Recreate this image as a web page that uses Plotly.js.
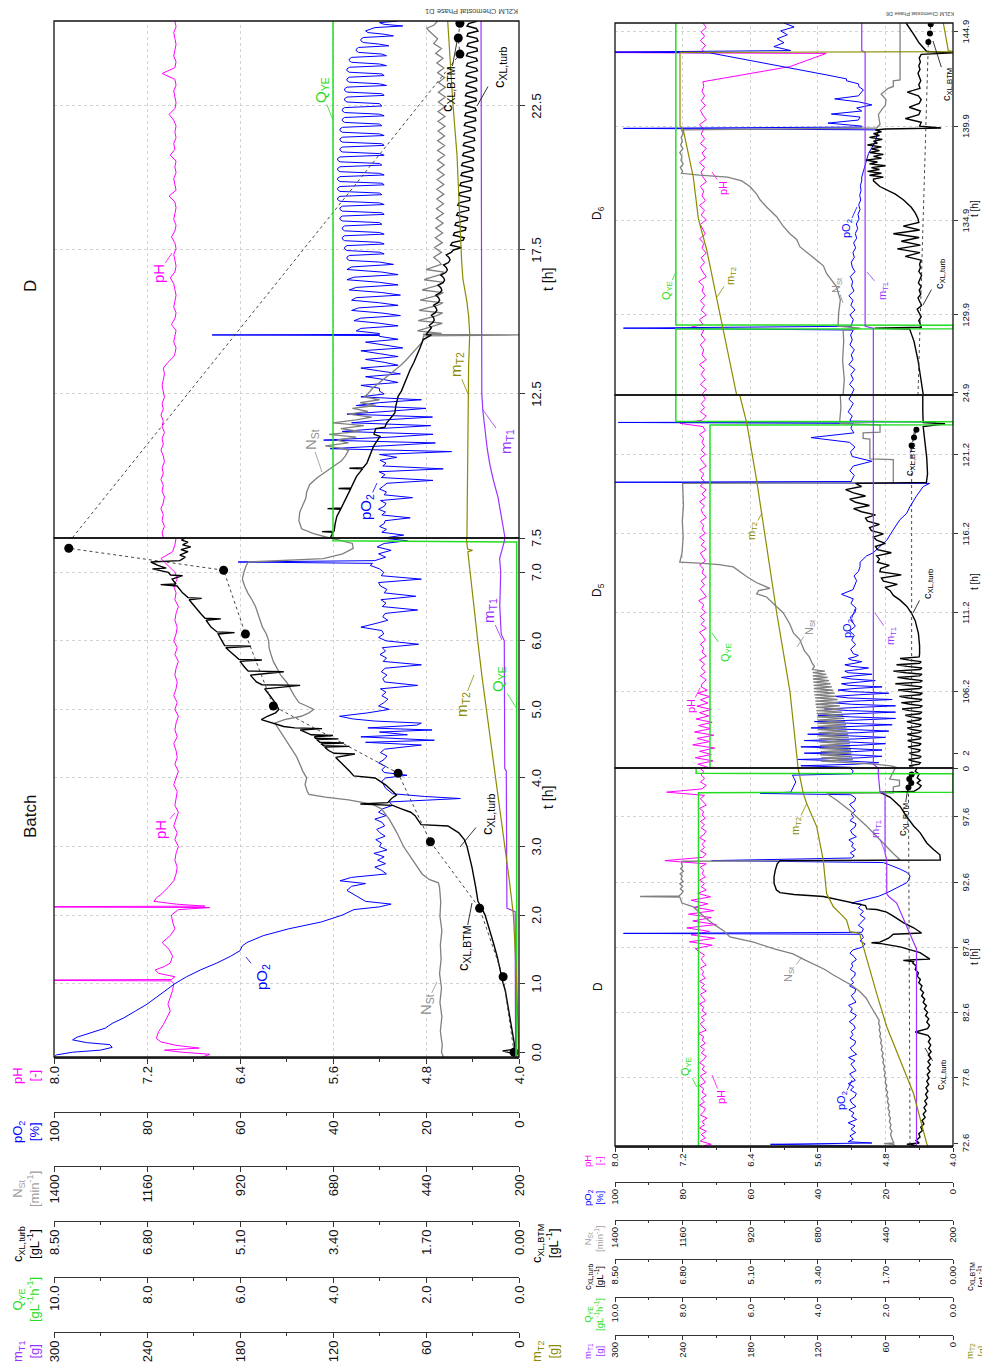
<!DOCTYPE html>
<html>
<head>
<meta charset="utf-8">
<script src="https://cdn.plot.ly/plotly-3.0.1.min.js"></script>
<style>
html,body{margin:0;padding:0;width:982px;height:1369px;overflow:hidden;background:#fff;}
#wrap{position:absolute;left:0;top:0;width:1369px;height:982px;transform-origin:0 0;}
#chart{width:1369px;height:982px;}
</style>
</head>
<body>
<div id="wrap"><div id="chart"></div></div>
<script>
// ---------------- tick labels ----------------
const tB_ticks = [0,1,2,3,4,5,6,7];
const tB_tickText = ['0.0','1.0','2.0','3.0','4.0','5.0','6.0','7.0'];
const tD_ticks = [7.5,12.5,17.5,22.5];
const tD_tickText = ['7.5','12.5','17.5','22.5'];
const bD_ticks = [72.6,77.6,82.6,87.6,92.6,97.6,101.3];
const bD_tickText = ['72.6','77.6','82.6','87.6','92.6','97.6','0'];
const b5_ticks = [102.3,106.2,111.2,116.2,121.2];
const b5_tickText = ['2','106.2','111.2','116.2','121.2'];
const b6_ticks = [125.77,129.9,134.9,139.9,144.9];
const b6_tickText = ['24.9','129.9','134.9','139.9','144.9'];

// ---------------- data: items are [t, value] or [t0, t1, [values evenly over t0..t1]] ----------------
// ===== top panel, Batch (t in h) =====
const tB_pH = [[-0.07,6.72],[-0.03,6.66],[0.0,6.9],[0.03,7.05],[0.06,6.75],[0.1,6.95],[0.15,7.08],[0.2,7.12],[0.3,7.1],[0.4,7.06],[0.5,7.03],[0.6,7.0],[0.7,7.02],[0.8,7.0],[0.9,6.98],[1.0,6.97],[1.04,6.99],[1.05,8.6],[1.06,6.99],[1.1,6.96],[1.15,7.1],[1.2,7.13],[1.25,7.05],[1.3,7.0],[1.4,6.98],[1.5,7.01],[1.6,7.07],[1.7,7.0],[1.8,6.96],[1.9,6.98],[2.0,6.99],[2.08,6.93],[2.11,6.66],[2.12,8.6],[2.13,6.7],[2.16,6.95],[2.2,7.14],[2.25,7.12],[2.3,7.08],[2.4,7.02],[2.5,6.97],[2.6,6.95],
 [2.7,7.5,[6.94,6.96,6.95,6.93,6.96,6.94,6.97,6.95,6.93,6.96,6.95,6.94,6.97,6.95,6.93,6.96,6.94,6.95,6.97,6.94,6.96,6.95,6.93,6.96,6.94,6.97,6.95,6.94,6.96,6.95,6.93,6.96,6.94,6.97,6.95,6.94,6.96,6.95,6.93,6.96,6.95,6.97,6.94,6.96,7.02,7.08,6.98,6.96,6.95]]];
const tB_pO2 = [[-0.07,100],[-0.04,99.5],[0.0,96],[0.03,90],[0.07,87.5],[0.11,88],[0.14,93],[0.18,96],[0.22,95],[0.28,92],[0.35,89],[0.42,87.5],[0.5,85],[0.6,82.5],[0.7,80],[0.8,78],[0.9,76],[1.0,74],[1.1,71.5],[1.2,68.5],[1.3,65],[1.4,62],[1.48,60],[1.55,59.5],[1.6,58.5],[1.7,55],[1.8,49.5],[1.9,42.5],[2.0,38],[2.08,35.5],[2.12,30],[2.16,27.5],[2.2,33],[2.28,35],[2.36,37],[2.42,36],[2.46,33],[2.5,38.5],[2.55,36],[2.6,28.5],
 [2.65,3.6,[29.5,31,28.7,30.4,29,31.2,28.4,30,29.6,30.8,28.8,29.9,30.6,28.9,29.4,31,28.6,30.2,29.3,27.2]],
 [3.65,27.9],[3.7,12.6],[3.73,20.3],[3.77,27.2],[3.85,28.7],[3.95,29.5],[4.0,28.7],[4.04,24.1],[4.08,29],
 [4.12,4.42,[29.5,28.7,30.2,29,28.4,29.8,28.9]],
 [4.48,21],[4.52,33],[4.55,18.2],[4.6,34],[4.63,24],[4.67,30],[4.7,18.7],[4.73,32.5],[4.77,22],[4.8,21],[4.83,31],[4.86,35.6],[4.9,38.6],[4.95,32.5],[5.0,27.9],[5.05,30.2],
 [5.1,7.1,[29,28.2,29.5,28.6,29.8,21.8,28.9,29.3,28.4,29.6,28.8,21,29.2,28.5,29.9,28.7,29.4,21.6,28.6,30.2,29.1,29.5,34,31,28.2,29.3,28.8,21.8,29.4,28.6,29.7,22.2,29,28.4,29.8,30.2,21,29.6,29.1,30,32]],
 [7.13,31.5],[7.15,60.4],[7.17,31],[7.22,28.7],[7.27,30.2],[7.32,27.5],[7.37,30.5],[7.42,29],[7.46,24],[7.5,29.5]];
const tB_NSt = [[-0.07,395],[0.0,400],[0.1,2.4,[398,403,399,404,400,405,401,403,399,404,402,405]],[2.47,408],[2.52,432],[2.6,450],[2.8,475],[3.0,498],[3.2,515],[3.4,535],[3.55,555],[3.62,580],[3.68,640],[3.72,700],[3.76,742],[3.8,746],[3.9,752],[4.0,748],[4.1,758],[4.2,765],[4.3,773],[4.4,784],[4.5,796],[4.6,808],[4.7,818],[4.8,830],[4.85,805],[4.9,762],[4.95,742],[5.0,730],[5.05,748],[5.1,768],[5.2,780],[5.3,790],[5.4,800],[5.5,815],[5.6,825],[5.7,834],[5.8,840],[5.9,845],[6.0,846],[6.1,852],[6.2,862],[6.3,868],[6.4,872],[6.5,880],[6.6,889],[6.7,900],[6.8,908],[6.9,914],[7.0,910],[7.1,904],[7.15,898],[7.2,705],[7.27,655],[7.35,628],[7.42,630],[7.5,685]];
const tB_cXL = [[-0.07,0.05],[-0.02,0.12],[0.02,0.3],[0.04,0.1],[0.1,0.08],[0.3,0.12],[0.5,0.16],[0.7,0.2],[0.9,0.25],[1.0,0.29],[1.2,0.34],[1.4,0.4],[1.6,0.47],[1.8,0.55],[2.0,0.62],[2.1,0.68],[2.2,0.75],[2.4,0.79],[2.5,0.81],[2.7,0.86],[2.9,0.92],[3.0,0.95],[3.1,1.0],[3.2,1.1],[3.3,1.3],[3.32,1.79],[3.45,1.9],[3.5,1.98],[3.55,2.15],[3.6,2.31],[3.62,2.9],[3.64,2.4],[3.7,2.33],[3.75,2.24],[3.8,2.3],[3.9,2.44],[4.0,2.63],[4.03,3.02],[4.1,3.1],[4.2,3.22],[4.3,3.35],[4.35,3.0],[4.36,3.38],[4.4,3.48],[4.45,3.55],[4.46,3.1],[4.47,3.57],[4.5,3.62],[4.51,3.2],[4.52,3.64],[4.56,3.7],[4.57,3.3],[4.58,3.72],[4.6,3.74],[4.62,3.4],[4.63,3.8],[4.7,4.0],[4.72,3.6],[4.73,4.1],[4.75,4.3],[4.8,4.52],[4.85,4.71],[4.9,4.6],[4.95,4.45],[5.0,4.39],[5.1,4.46],[5.2,4.55],[5.3,4.65],[5.35,4.0],[5.36,4.7],[5.4,4.8],[5.5,4.91],[5.55,4.3],[5.56,4.95],[5.6,5.0],[5.7,5.1],[5.72,4.7],[5.73,5.12],[5.8,5.22],[5.9,5.36],[5.92,4.9],[5.93,5.38],[6.0,5.43],[6.1,5.5],[6.12,5.2],[6.13,5.52],[6.2,5.63],[6.3,5.72],[6.32,5.45],[6.33,5.74],[6.4,5.82],[6.5,5.92],[6.6,6.03],[6.62,5.8],[6.63,6.05],[6.7,6.15],[6.8,6.25],[6.82,6.55],[6.83,6.27],[6.9,6.34],[6.95,6.15],[6.96,6.37],[7.0,6.41],[7.05,6.7],[7.06,6.45],[7.1,6.6],[7.15,6.73],[7.17,6.2],[7.22,6.1],[7.25,6.2],[7.3,6.05],[7.33,6.18],[7.37,6.0],[7.4,6.15],[7.44,6.05],[7.47,6.17],[7.5,6.1]];
const tB_BTM = [[0.0,0.09],[1.1,0.29],[2.1,0.72],[3.07,1.62],[4.07,2.21],[5.05,4.49],[6.1,5.0],[7.03,5.4],[7.35,8.23]];
const tB_QYE = [[-0.07,0.05],[7.44,0.05],[7.46,4.0],[7.5,4.0]];
const tB_mT1 = [[-0.07,2.2],[2.05,2.5],[2.1,7.8],[4.1,8.2],[4.14,9.2],[6.0,9.5],[6.1,11.5],[6.5,12.4],[7.0,11.8],[7.2,12.5],[7.45,9.5],[7.5,9.2]];
const tB_mT2 = [[-0.07,0],[0.5,0.6],[1.0,1.5],[1.5,2.5],[2.0,3.6],[2.5,6.2],[3.0,9.2],[3.5,12.2],[4.0,15.2],[4.5,18.2],[5.0,21.2],[5.5,24.0],[6.0,26.6],[6.5,29.2],[7.0,31.8],[7.3,33],[7.32,30],[7.34,33.2],[7.5,34]];

// ===== top panel, D =====
const tD_pH = [[7.5,13.4,[7.06,7.07,7.05,7.07,7.06,7.08,7.06,7.05,7.07,7.06,7.08,7.06,7.07,7.05,7.06,7.08,7.06,7.07,7.05,7.07,7.06,7.08,7.06,7.07,7.05,7.06,7.07,7.06,7.05,7.06]],[13.6,7.02],[13.8,6.97],
 [13.9,25.45,[6.96,6.95,6.97,6.96,6.95,6.99,6.96,6.95,6.97,6.96,6.95,6.96,6.97,7.0,6.96,6.95,6.96,6.97,6.95,6.96,6.99,6.96,6.95,6.97,6.96,6.95,6.96,7.01,6.95,6.96,6.97,6.95,6.96,6.95,7.0,6.96,6.97,6.95,6.96,6.95,6.97,7.01,6.96,6.95,6.96,6.97,6.95,6.96,7.07,6.96,6.95,6.97,6.96,6.95,6.96,6.97,6.95,6.96]]];
const tD_pO2 = [[7.5,10.3,[29,24.8,29.5,28.5,30,29,28.8,23.4,29.5,28.7,30.2,29,28.6,29.8,22.9,29,28.5,30,29.2,28.4,18.5,29.6,28.8,30.1,16.3,29.3,28.6,29.9,26.3]],
 [10.4,12.6,[30,14.5,40.6,29,18,42,28,18.5,38,30,19,36,29,18.6,37,28,20,35,30,21,34,29,30]],
 [12.7,14.5,[30,34,26,29,33,25.5,30,34,26,29,33,26,30,34,25,29,33,26,30]],
 [14.53,30],[14.55,66],[14.57,30],
 [14.6,17.0,[30,35,34,26,30,35.5,34,25.5,29.5,36,34.5,26,30,36,35,25.5,29.5,36.5,35,26,30,37,35.5,26,29.5,37,36,27]],
 [17.08,22.5,[30,36.5,37,37,36.5,29, 30,37,37.5,37.5,37,29, 30,37.5,38,38,37.5,29, 30,37.5,38,38,37.5,29.5, 30,38,38.5,38.5,38,29, 29.5,38,38.5,38.5,38,29, 30,38.5,39,39,38.5,29.5, 30,38.5,39,39,38.5,29, 29.5,38.5,39,39,38.5,29, 30,38.5,39,39,38.5,29.5, 30,38.5,39,39,38.5,29, 30,38,38.5,38.5,38,29, 29.5,38,38.5,38.5,38,29, 30,38,38.5,38.5,38,29.5, 30,37.5,38,38,37.5,29, 30,37.5,38,38,37.5,29.5]],
 [22.58,25.45,[30,37,37.5,37.5,37,29, 29.5,37,37.5,37.5,37,28.5, 30,36.5,37,37,36.5,29, 29.5,36.5,37,37,36.5,28.5, 30,36,36.5,36.5,36,28.5, 29.5,34.5,35,35,34.5,28, 30,33.5,34,34,33.5,27, 29,32.5,33,32,31,25, 29,30,26]]];
const tD_NSt = [[7.5,689],[7.65,730],[7.82,761],[8.1,768],[8.39,766],[8.65,758],[8.89,750],[9.1,748],[9.36,740],[9.6,720],[9.82,697],[10.0,675],[10.18,658],[10.35,648],[10.54,640],
 [10.6,12.5,[655,700,640,670,620,690,610,660,600,680,620,580,640,590,630,570,610,560,600,590]],
 [12.7,578],[12.9,560],[13.1,540],[13.3,522],[13.5,505],[13.7,490],[13.9,476],[14.1,463],[14.3,450],[14.52,446],[14.55,200],[14.57,448],
 [14.6,17.0,[400,462,440,415,398,460,438,412,397,458,436,410,396,455,432,408,395,450,428,405,394,445,425,403,393,440,420,401]],
 [17.08,25.0,[405,420,400,418,398,416,397,415,396,414,395,413,395,412,394,412,394,411,393,411,393,410,392,410,392,410,392,409,391,409,391,409,391,408,390,408,390,408,392,410,394,412,396,415,400,420,410,425]],
 [25.1,432],[25.2,438],[25.3,420],[25.45,410]];
const tD_cXL = [[7.5,3.45],[7.7,3.4],[7.72,3.6],[7.74,3.38],[8.0,3.36],[8.25,3.33],[8.5,3.26],[8.52,3.5],[8.54,3.25],[8.95,3.15],[9.2,3.08],[9.22,3.3],[9.24,3.07],[9.64,2.97],[9.9,2.86],[9.92,3.1],[9.94,2.85],[10.1,2.78],[10.4,2.72],[10.68,2.66],[11.03,2.54],[11.1,2.65],[11.3,2.62],[11.35,2.45],[11.49,2.42],[11.7,2.34],[11.84,2.27],[12.1,2.25],[12.42,2.21],[12.6,2.15],[12.88,2.09],[13.1,2.04],[13.34,1.99],[13.6,1.92],[13.81,1.87],[14.1,1.81],[14.39,1.75],[14.55,1.6],[14.56,1.7],[14.73,1.62],
 [14.8,17.5,[1.6,1.64,1.58,1.55,1.56,1.6,1.53,1.5,1.52,1.56,1.48,1.45,1.47,1.52,1.44,1.41,1.43,1.48,1.39,1.36,1.38,1.43,1.34,1.31,1.33,1.38,1.29,1.26,1.28,1.33,1.24,1.2]],
 [17.58,25.45,[1.05,1.25,1.22,1.02,1.0,1.2,1.18,0.98,0.97,1.17,1.15,0.95,0.94,1.14,1.12,0.92,0.92,1.12,1.1,0.9,0.9,1.1,1.08,0.88,0.88,1.08,1.06,0.86,0.86,1.06,1.04,0.84,0.85,1.05,1.03,0.83,0.84,1.03,1.01,0.82,0.83,1.02,1.0,0.81,0.82,1.01,0.99,0.8,0.81,1.0,0.98,0.79,0.8,0.99,0.97,0.78,0.8,0.98,0.96,0.78,0.79,0.98,0.96,0.77,0.79,0.97,0.95,0.77,0.78,0.97,0.95,0.76,0.78,0.96,0.94,0.76,0.78,0.96,0.94,0.76,0.77,0.95,0.93,0.75,0.77,0.95,0.93,0.75,0.78,0.95,0.92,0.76]]];
const tD_BTM = [[7.35,8.23],[24.3,1.08],[24.86,1.11],[25.37,1.08]];
const tD_QYE = [[7.5,4.0],[25.45,4.0]];
const tD_mT1 = [[7.5,9],[8.0,10.5],[8.9,13.5],[9.5,16.5],[10.05,18.8],[10.6,20.5],[11.2,22],[11.9,23.3],[12.5,24],[18,24.2],[25.45,24.5]];
const tD_mT2 = [[7.5,33.6],[10,33.3],[12.5,33],[13.5,32.5],[14.6,31.8],[15.2,32.5],[15.7,33.6],[16.5,36.2],[17.1,37],[18.5,38],[20.8,40],[22.55,42.6],[24.3,44.7],[25.45,46]];

// ===== bottom panel, D =====
const bD_pH = [[72.4,6.95],[72.5,6.86],
 [72.75,87.25,[6.99,6.93,6.98,6.92,7.0,6.94,6.97,6.91,6.99,6.95,6.93,7.0,6.94,6.98,6.92,6.97,6.95,7.0,6.93,6.96,6.99,6.92,6.97,6.94,7.0,6.95,6.92,6.98,6.94,6.99,6.93,6.97,6.95,7.01,6.92,6.96,6.99,6.94,6.98,6.92,6.97,6.95,7.0,6.93,6.96,6.99,6.92,6.98,6.94,7.0,6.93,6.97,6.95,6.99,6.92,6.96,6.98,6.94,7.0]],
 [87.5,92.0,[7.05,6.85,7.12,6.82,7.1,6.88,7.15,6.8,7.08,6.86,7.13,6.83,7.06,6.9,7.1,6.87,7.02,6.92]],
 [92.25,94.0,[6.98,6.94,7.0,6.93,6.97,6.95,6.99,6.92]],[94.25,7.41],
 [94.5,99.25,[6.96,6.92,6.99,6.94,6.97,6.93,7.0,6.95,6.92,6.98,6.94,6.99,6.93,6.97,6.95,7.0,6.92,6.96,6.99,6.94]],[99.5,7.39],
 [99.75,101.35,[6.97,6.92,6.99,6.94,6.98,6.95,7.0]]];
const bD_pO2 = [[72.4,72.7,[30,54,24,31]],
 [72.9,87.4,[29.5,30.5,28.8,30.2,29,31,28.5,30,29.3,30.8,28.7,29.9,30.5,29,28.6,30.3,29.4,31,28.9,29.8,30.6,28.7,29.5,30.2,29,30.9,28.5,29.7,30.4,29.1,28.8,30.5,29.6,30.1,28.9,29.4,30.7,29.2,28.6,30.3,29.8,30.9,28.7,29.5,30.1,29,28.8,30.6,29.4,30.2,29.1,28.9,30.4,29.7,30,28.6,29.3,30.5,29.6]],
 [87.6,88.6,[27,26,27.5,26.5,27]],[88.67,97.5],
 [88.75,90.9,[27,26.5,28,27,26,27.5,26.5,28,27]],
 [91.0,94.1,[30,26,22,19.6,17.5,15.7,13.7,13,12.7,13.5,15.5,18,20.6]],
 [94.25,71.4],[94.35,44],[94.45,30],
 [94.6,99.3,[29.2,30.4,28.8,30,29.5,30.8,28.6,29.9,30.3,29,28.7,30.5,29.4,30.1,28.9,29.7,30.6,29.1,28.8,30.2]],
 [99.4,57],[99.5,100.8,[48,47.5,47,46.5,47,47.5]],[100.9,101.35,[30,29.5,30.5]]];
const bD_NSt = [[72.37,405],[72.5,412],[72.55,445],[72.6,410],[72.8,414],
 [73.0,82.0,[418,422,417,424,420,426,422,428,425,431,427,433,430,436,432,439,435,441,438,444,440,446,443,449,446,452,448,455,451,457,454,460,457,462,459,464,462]],
 [82.7,483],[83.2,495],[83.7,508],[84.2,530],[84.7,560],[85.1,594],[85.5,626],[85.9,655],[86.2,685],[86.7,732],[87.1,768],[87.5,838],[88.0,908],[88.4,992],[88.9,1016],[89.3,1045],[89.8,1075],[90.3,1100],[90.7,1122],[91.0,1162],[91.45,1170],[91.5,1311],[91.55,1172],
 [91.7,94.2,[1165,1158,1168,1160,1170,1158,1166,1161,1169,1157,1167,1160,1164,1162]],
 [94.27,400],[94.35,390],[94.8,412],[95.6,447],[96.3,478],[96.9,507],[97.5,537],[98.1,566],[98.9,614],[99.4,649],[99.45,412],[99.9,412],[100.0,390],[100.4,390],[100.5,425],[100.9,415],[101.35,405]];
const bD_cXL = [[72.37,0.9],[72.5,1.16],[72.6,0.85],
 [72.8,86.4,[0.93,0.83,0.86,0.77,0.81,0.73,0.78,0.7,0.75,0.68,0.73,0.66,0.71,0.64,0.69,0.63,0.68,0.61,0.66,0.6,0.65,0.58,0.64,0.57,0.63,0.56,0.62,0.55,0.61,0.56,0.62,0.57,0.63,0.95,0.64,0.59,0.66,0.61,0.69,0.64,0.72,0.67,0.75,0.71,0.79,0.74,0.82,0.78,0.86,0.82,0.9,0.87,0.95,0.92,1.01]],
 [86.5,0.99],[86.6,1.25],[86.65,0.99],[86.7,0.58],[87.2,0.83],[87.64,1.33],[87.9,1.84],[87.95,2.05],[88.0,1.84],[88.3,1.62],[88.6,1.5],[88.7,0.79],[89.1,0.99],[89.5,1.25],[90.0,1.5],[90.3,1.67],[90.5,1.92],[90.55,2.17],[90.8,2.2],[91.0,2.51],[91.3,2.92],[91.5,3.26],[91.65,4.0],[91.8,4.35],[92.0,4.44],[92.5,4.5],[93.0,4.5],[93.5,4.47],[94.0,4.42],[94.25,4.35],[94.3,0.32],[94.7,0.33],[95.1,0.49],[95.6,0.66],[96.4,0.83],[96.9,0.99],[97.6,1.16],[98.4,1.33],[99.1,1.58],[99.5,1.84],[99.55,0.99],[99.8,0.85],[100.0,0.8],[100.2,0.9],[100.4,0.82],[100.6,0.9],[100.9,0.85],[101.1,0.95],[101.35,0.9]];
const bD_BTM = [[72.0,1.08],[99.85,1.12],[100.2,1.05],[100.5,1.1],[100.85,1.04]];
const bD_QYE = [[72.37,7.53],[99.45,7.53],[99.5,0],[100.9,0],[100.95,7.6],[101.35,7.6]];
const bD_mT1 = [[72.37,32.4],[87.5,32.4],[88.0,35],[89.2,41],[89.9,44],[91.0,50],[91.5,57],[91.7,58.8],[94.3,58.8],[94.8,60.3],[99.4,60.3],[99.5,64.8],[100.9,66.3],[101.35,66.3]];
const bD_mT2 = [[72.37,22.5],[72.58,23.4],[76.41,35.1],[78.96,47.1],[81.51,58.8],[84.07,67.8],[86.62,76.5],[88.41,82.5],[88.67,83],[88.8,91.5],[89.7,94.5],[90.2,100.2],[90.71,106.2],[91.22,109.2],[91.73,112.2],[94.29,115.2],[96.84,120.9],[98.63,129.9],[99.4,132.9],[100.67,135.9],[101.35,137.5]];

// ===== bottom panel, D5 =====
const b5_pH = [[101.4,106.5,[6.9,7.02,6.84,7.05,6.86,7.0,6.82,7.08,6.88,7.03,6.83,7.06,6.87,7.01,6.85,7.04,6.89,7.0,6.86,7.03,6.9,6.99,6.88,7.02,6.91,6.98]],
 [106.7,123.0,[6.97,6.92,6.99,6.93,6.98,6.94,7.0,6.92,6.97,6.95,6.99,6.93,6.96,7.0,6.92,6.98,6.94,6.99,6.93,6.97,6.95,7.01,6.92,6.96,6.99,6.94,6.98,6.92,6.97,6.95,7.0,6.93,6.96,6.99,6.92,6.98,6.94,7.0,6.93,6.97,6.95,6.99,6.92,6.96,6.98,6.94,7.0,6.93,6.97,6.92,6.99,6.94,6.98,6.95,7.0,6.92,6.96,6.99,6.93,6.98,6.94,6.97,6.95,7.0,6.93,6.96]],
 [123.2,7.23],[123.4,125.0,[6.97,6.92,6.99,6.94,6.98,6.93,6.96]]];
const b5_pO2 = [[101.4,108.5,[30,45,29,22,31,46,28,21,30,44,29,21,31,45,28,20,30,44,29,20,31,43,28,19,30,42,29,18,31,41,28,17,30,40,29,17,31,38,28,17,30,36,29,18,31,35,28,19,30,34,29,21,31,33,28,23,30,33,29,24,31,32,28,25,30,32,29,27,30,31,29,28]],
 [108.6,114.4,[29.5,30.3,28.8,30,29.2,30.6,28.9,29.8,30.4,29,28.7,30.2,29.5,33,29.6,29,28.5,29.3,28,27.5,27.5]],
 [114.8,25.6],[115.0,23.6],[115.4,21.6],[115.8,19.6],[116.45,17.7],[117.1,15.7],[117.5,13.7],[117.9,12.8],[118.6,10.8],[119.2,8.8],[119.4,6.9],[119.47,102],[119.52,30],
 [119.6,123.2,[30,29.2,30.5,29.5,24,29.8,30.3,29,30.6,42,29.3,30.2,29.6]],
 [123.26,99],[123.3,5],[123.34,30],[123.4,125.0,[30.5,29.8,31,30.2,29.5,30.8,30]]];
const b5_NSt = [[101.4,107.6,[400,420,480,560,670,555,668,558,672,560,670,562,674,565,672,566,675,568,676,570,678,572,677,575,679,578,680,580,681,583,682,586,683,590,684,594,685,598,686,602,688,606,689,610,690,615,692,620,693,625,694,630,695,635,696,640,697,645,698,650,698,655,699]],
 [107.8,692],[108.0,700],[108.4,710],[108.8,728],[109.5,744],[109.9,766],[110.5,780],[111.2,803],[111.6,827],[112.2,862],[112.4,897],[112.6,890],[112.75,850],[113.1,897],[113.5,933],[114.1,980],[114.25,1030],[114.35,1100],[114.4,1170],[115,1162],[116,1158],[117,1161],[118,1157],[119.4,1160],[119.45,412],[120.9,412],[120.95,495],[122.2,495],[122.25,519],[122.6,519],[122.65,459],[123.1,459],[123.2,600],[123.4,602],[124.2,598],[125.0,600]];
const b5_cXL = [[101.4,108.5,[1.0,1.1,0.85,0.82,1.02,1.12,0.84,0.8,1.0,1.1,0.86,0.82,1.03,1.13,0.85,0.8,1.02,1.14,0.84,0.8,1.0,1.15,0.86,0.79,1.03,1.15,0.84,0.8,1.02,1.16,0.85,0.79,1.05,1.2,0.84,0.78,1.1,1.28,0.83,0.77,1.08,1.3,0.84,0.78,1.12,1.35,0.83,0.77,1.1,1.38,0.84,0.78,1.15,1.45,0.83,0.77,1.12,1.4,0.84,0.78,1.18,1.5,0.83,0.78,1.15,1.42,0.84,0.8,1.1,1.33,0.85,0.84]],
 [108.6,0.84],[109.1,0.84],[109.9,0.87],[110.7,0.95],[111.2,1.05],[111.6,1.16],[112.0,1.33],[112.3,1.5],[112.6,1.58],
 [112.8,119.4,[1.71,1.4,1.75,1.8,1.3,1.84,1.82,1.6,1.9,1.85,1.92,1.55,1.9,1.95,1.7,1.92,2.0,1.75,2.05,2.1,1.85,2.15,2.2,1.95,2.3,2.5,2.1,2.45,2.6,2.2,2.5,2.7,2.3,2.45]],
 [119.45,0.67],[120.0,0.64],[121.0,0.66],[122.0,0.7],[123.0,0.75],[123.18,0.2],[123.25,0.75],[124.0,0.76],[125.0,0.76]];
const b5_BTM = [[100.85,1.04],[121.8,1.04],[122.3,0.98],[122.8,0.92]];
const b5_QYE = [[101.36,7.19],[123.1,7.19],[123.12,0],[123.3,0],[123.32,8.2],[125.0,8.2]];
const b5_mT1 = [[101.36,66.3],[101.6,70.7],[125.0,70.7]];
const b5_mT2 = [[101.36,137.5],[106.2,144.7],[111.2,156.5],[116.2,166.8],[119.6,174.3],[123.2,183],[124.9,189],[125.0,189.3]];

// ===== bottom panel, D6 =====
const b6_pH = [[125.7,129.1,[6.97,6.92,6.99,6.93,6.98,6.94,7.0,6.92,6.97,6.95,6.99,6.93,6.98,6.95]],[129.25,7.1],
 [129.4,142.25,[6.96,7.0,6.92,6.98,6.94,6.99,6.93,6.97,6.95,7.01,6.92,6.96,6.99,6.94,6.98,6.92,6.97,6.95,7.0,6.93,6.96,6.99,6.92,6.98,6.94,7.0,6.93,6.97,6.95,6.99,6.92,6.96,6.98,6.94,7.0,6.93,6.97,6.92,6.99,6.94,6.98,6.95,7.0,6.92,6.96,6.99,6.93,6.98,6.94,6.97,6.95,6.96]],
 [143.05,5.93],[143.5,5.65],[143.75,5.5],[143.8,8.5],[143.85,6.95],[143.95,145.36,[6.97,6.93,6.99,6.94,6.98,6.92,6.96]]];
const b6_pO2 = [[125.7,129.1,[30,29.3,30.6,29.5,30.2,29,30.8,29.6,30.1,29.2,30.5,29.8,30.3,29.5]],[129.2,97.5],[129.3,30],
 [129.4,137.0,[30,29.5,30.5,29,30.2,29.6,30.8,29.3,30,29.7,30.4,29,29.8,30.1,29.2,29.6,28.8,29.4,28.5,28.9,28.2,28.6,27.8,28.1,27.5,27.9,27.3,27.6,27.2,27.4,27]],
 [137.2,139.7,[27,26.5,26,25.5,25,24,23,22.5,22]],[139.78,97.5],[139.85,27],
 [139.9,142.3,[27,37,28,27.5,36,27,28.5,24,27.8,35,28,27.2,26.5,27.8,28,31.5]],
 [142.4,143.78,[31.5,37,43,49,55,61,66,72]],[143.82,100],[143.9,145.36,[48,53,50,52,49,51,47,50]]];
const b6_NSt = [[125.66,590],[126.5,586],[127.5,592],[128.5,588],[129.1,590],[129.2,530],[129.3,608],[130.0,606],[130.7,600],[131.4,614],[132.1,649],[132.5,660],[132.8,684],[133.2,720],[133.5,743],[133.9,755],[134.2,779],[134.6,803],[135.1,826],[135.6,861],[136.0,885],[136.3,897],[136.7,921],[137.0,950],[137.2,1000],[137.3,1100],[137.4,1164],
 [137.5,139.7,[1160,1168,1158,1166,1162,1170,1159,1167,1161,1165,1158,1164]],
 [139.8,471],[140.0,459],[140.5,465],[140.8,452],[141.0,440],[141.3,438],[141.6,455],[141.9,430],[142.0,412],[142.3,412],[142.35,388],[145.36,388]];
const b6_cXL = [[125.7,0.75],[126.5,0.8],[127.5,0.88],[128.5,0.98],[129.0,1.05],[129.15,1.09],[129.2,1.97],[129.25,0.8],
 [129.4,135.0,[0.82,0.86,0.8,0.85,0.9,0.79,0.84,0.88,0.81,0.85,0.8,0.87,0.83,0.79,0.86,0.82,0.84,0.8,1.2,0.83,1.4,0.82,1.3,0.85,1.5,0.84,1.25,0.86,0.88]],
 [135.3,0.95],[135.6,1.05],[136.0,1.25],[136.3,1.45],[136.7,1.84],[137.0,2.0],
 [137.1,139.7,[2.0,1.75,2.1,1.8,2.15,1.85,2.05,1.7,2.1,1.9,2.2,1.8,2.0,1.75,2.1,1.85,2.05,1.8,2.15,1.9,2.0,1.78,2.1,1.85,2.0,1.8,1.95]],
 [139.75,1.7],[139.8,0.3],
 [139.9,143.7,[0.84,0.8,1.2,0.86,0.82,1.1,0.85,0.8,0.87,1.15,0.83,0.86,0.81,0.85,0.88,0.83,0.86,0.82,0.85,0.8]],
 [143.78,0.0],[143.85,0.66],[144.3,0.85],[144.8,1.0],[145.36,1.18]];
const b6_BTM = [[122.8,0.92],[144.36,0.62],[144.8,0.58],[145.3,0.56]];
const b6_QYE = [[125.66,8.2],[129.15,8.2],[129.17,0],[129.35,0],[129.37,8.2],[145.36,8.2]];
const b6_mT1 = [[125.66,70.7],[129.2,70.7],[129.3,78],[143.8,78],[143.9,81],[145.36,81]];
const b6_mT2 = [[125.66,192],[129.37,205],[133.34,218.6],[135.0,226],[137.2,230.5],[139.7,239.4],[139.9,242.3],[143.8,242.3],[143.84,0],[143.9,4.2],[145.36,8.6]];

// ---------------- rendering ----------------
const W = 1369, H = 982;
const FONT = 'Liberation Sans, Arial, Helvetica, sans-serif';
const COL = {pH:'#ff00ff', pO2:'#0000ff', NSt:'#808080', cXL:'#000000', BTM:'#333333', QYE:'#22dd22', mT1:'#9933ff', mT2:'#8b8b00'};
const px = X => X / W;
const py = Y => 1 - Y / H;

function build(items){
  const x = [], y = [];
  for (const it of items){
    if (Array.isArray(it[2])){
      const a = it[0], b = it[1], v = it[2], n = v.length;
      for (let i = 0; i < n; i++){ x.push(n > 1 ? a + (b - a) * i / (n - 1) : a); y.push(v[i]); }
    } else { x.push(it[0]); y.push(it[1]); }
  }
  return {x, y};
}

const panels = [
  {xa:'x',  ya:['y','y2','y3','y4','y5','y6'],  big:true,  s:{pH:tB_pH,pO2:tB_pO2,NSt:tB_NSt,cXL:tB_cXL,BTM:tB_BTM,QYE:tB_QYE,mT1:tB_mT1,mT2:tB_mT2}},
  {xa:'x2', ya:['y','y2','y3','y4','y5','y6'],  big:true,  s:{pH:tD_pH,pO2:tD_pO2,NSt:tD_NSt,cXL:tD_cXL,BTM:tD_BTM,QYE:tD_QYE,mT1:tD_mT1,mT2:tD_mT2}},
  {xa:'x3', ya:['y7','y8','y9','y10','y11','y12'], big:false, s:{pH:bD_pH,pO2:bD_pO2,NSt:bD_NSt,cXL:bD_cXL,BTM:bD_BTM,QYE:bD_QYE,mT1:bD_mT1,mT2:bD_mT2}},
  {xa:'x4', ya:['y7','y8','y9','y10','y11','y12'], big:false, s:{pH:b5_pH,pO2:b5_pO2,NSt:b5_NSt,cXL:b5_cXL,BTM:b5_BTM,QYE:b5_QYE,mT1:b5_mT1,mT2:b5_mT2}},
  {xa:'x5', ya:['y7','y8','y9','y10','y11','y12'], big:false, s:{pH:b6_pH,pO2:b6_pO2,NSt:b6_NSt,cXL:b6_cXL,BTM:b6_BTM,QYE:b6_QYE,mT1:b6_mT1,mT2:b6_mT2}}
];
const axisIndex = {pH:0,pO2:1,NSt:2,cXL:3,BTM:3,QYE:4,mT1:5,mT2:5};
const widths = {pH:1, pO2:1, NSt:1.3, cXL:1.4, BTM:0.9, QYE:1.5, mT1:1.2, mT2:1.2};

const traces = [];
for (const p of panels){
  for (const k of ['pH','pO2','NSt','cXL','BTM','QYE','mT1','mT2']){
    const d = build(p.s[k]);
    const tr = {type:'scatter', x:d.x, y:d.y, xaxis:p.xa, yaxis:p.ya[axisIndex[k]], hoverinfo:'skip', name:k, showlegend:false};
    if (k === 'BTM'){
      tr.mode = 'lines+markers';
      tr.line = {color:COL.BTM, width:widths.BTM, dash:'dot'};
      tr.marker = {color:'#000', size:p.big ? 9 : 6};
    } else {
      tr.mode = 'lines';
      tr.line = {color:COL[k], width:widths[k]};
    }
    traces.push(tr);
  }
}

const topDom = [py(519), py(54)];
const botDom = [py(953), py(615)];
const gridCol = '#c8c8c8';

function valAxis(o){
  const a = {
    range:o.range, tickmode:'linear', tick0:o.tick0, dtick:o.dtick, tickformat:o.fmt,
    ticks:'outside', ticklen:o.big?5:4, tickwidth:1, tickcolor:'#333',
    showline:true, linecolor:'#333', linewidth:1.5, zeroline:false, showgrid:false,
    tickfont:{family:FONT, size:o.big?13:9.5, color:'#111'},
    minor:{ticks:'outside', ticklen:o.big?3:2, tickcolor:'#333', dtick:o.dtick/2, tick0:o.tick0, showgrid:false},
    automargin:false, fixedrange:true
  };
  if (o.base){
    a.domain = o.domain; a.anchor = o.anchor;
    a.showgrid = true; a.gridcolor = gridCol; a.griddash = 'dot'; a.gridwidth = 0.8;
  } else {
    a.overlaying = o.over; a.anchor = 'free'; a.position = px(o.pos);
  }
  return a;
}
function timeAxis(o){
  return {
    domain:o.domain, anchor:o.anchor, range:o.range, tickmode:'array', tickvals:o.tv, ticktext:o.tt,
    ticks:'outside', ticklen:o.big?5:4, tickwidth:1, tickcolor:'#333',
    showline:false, zeroline:false, showgrid:false,
    tickfont:{family:FONT, size:o.big?13:9.5, color:'#111'},
    minor:{tickmode:'array', tickvals:o.grid, ticks:'', showgrid:true, gridcolor:gridCol, griddash:'dot', gridwidth:0.8},
    automargin:false, fixedrange:true
  };
}

const layout = {
  width:W, height:H, margin:{l:0,r:0,t:0,b:0}, paper_bgcolor:'#fff', plot_bgcolor:'rgba(0,0,0,0)', showlegend:false,
  font:{family:FONT, color:'#111'},
  xaxis:  timeAxis({domain:[px(312),px(831)], anchor:'y', range:[-0.07,7.5], tv:tB_ticks, tt:tB_tickText, grid:[1,2,3,4,5,6,7], big:true}),
  xaxis2: timeAxis({domain:[px(831),px(1348)], anchor:'y', range:[7.5,25.45], tv:tD_ticks, tt:tD_tickText, grid:[12.5,17.5,22.5], big:true}),
  xaxis3: timeAxis({domain:[px(223),px(601)], anchor:'y7', range:[72.37,101.35], tv:bD_ticks, tt:bD_tickText, grid:[77.6,82.6,87.6,92.6,97.6], big:false}),
  xaxis4: timeAxis({domain:[px(601),px(974)], anchor:'y7', range:[101.36,125.0], tv:b5_ticks, tt:b5_tickText, grid:[106.2,111.2,116.2,121.2], big:false}),
  xaxis5: timeAxis({domain:[px(974),px(1346)], anchor:'y7', range:[125.66,145.36], tv:b6_ticks, tt:b6_tickText, grid:[129.9,134.9,139.9,144.9], big:false}),
  yaxis:  valAxis({base:true, domain:topDom, anchor:'x', range:[4,8], tick0:4, dtick:0.8, fmt:'.1f', big:true}),
  yaxis2: valAxis({over:'y', pos:256, range:[0,100], tick0:0, dtick:20, fmt:'d', big:true}),
  yaxis3: valAxis({over:'y', pos:202, range:[200,1400], tick0:200, dtick:240, fmt:'d', big:true}),
  yaxis4: valAxis({over:'y', pos:147, range:[0,8.5], tick0:0, dtick:1.7, fmt:'.2f', big:true}),
  yaxis5: valAxis({over:'y', pos:91, range:[0,10], tick0:0, dtick:2, fmt:'.1f', big:true}),
  yaxis6: valAxis({over:'y', pos:36, range:[0,300], tick0:0, dtick:60, fmt:'d', big:true}),
  yaxis7: valAxis({base:true, domain:botDom, anchor:'x3', range:[4,8], tick0:4, dtick:0.8, fmt:'.1f', big:false}),
  yaxis8: valAxis({over:'y7', pos:186, range:[0,100], tick0:0, dtick:20, fmt:'d', big:false}),
  yaxis9: valAxis({over:'y7', pos:148, range:[200,1400], tick0:200, dtick:240, fmt:'d', big:false}),
  yaxis10: valAxis({over:'y7', pos:109, range:[0,8.5], tick0:0, dtick:1.7, fmt:'.2f', big:false}),
  yaxis11: valAxis({over:'y7', pos:71, range:[0,10], tick0:0, dtick:2, fmt:'.1f', big:false}),
  yaxis12: valAxis({over:'y7', pos:33, range:[0,300], tick0:0, dtick:60, fmt:'d', big:false}),
  shapes:[], annotations:[]
};

// frames
[[312,831,54,519],[831,1348,54,519],[223,601,615,953],[601,974,615,953],[974,1346,615,953]].forEach(f=>{
  layout.shapes.push({type:'rect', xref:'paper', yref:'paper', x0:px(f[0]), x1:px(f[1]), y0:py(f[3]), y1:py(f[2]), line:{color:'#111', width:1.3}, layer:'above'});
});

function addText(text, X, Y, size, color, extra){
  layout.annotations.push(Object.assign({text, xref:'paper', yref:'paper', x:px(X), y:py(Y), showarrow:false,
    font:{family:FONT, size, color}, xanchor:'center', yanchor:'middle'}, extra||{}));
}
// panel titles
addText('Batch', 552, 30, 17, '#111');
addText('D', 1083, 30, 17, '#111');
addText('D', 382, 598, 12, '#111');
addText('D<sub>5</sub>', 779, 598, 12, '#111');
addText('D<sub>6</sub>', 1156, 598, 12, '#111');
addText('t [h]', 571, 548, 14, '#111');
addText('t [h]', 1089, 548, 14, '#111');
addText('t [h]', 412, 974, 10, '#111');
addText('t [h]', 787, 974, 10, '#111');
addText('t [h]', 1160, 974, 10, '#111');
addText('K2LM Chemostat Phase D1', 1357, 472, 7.5, '#444', {textangle:-90});
addText('K2LM Chemostat Phase D6', 1355, 920, 5.5, '#444', {textangle:-90});

// value axis titles
const titleTexts = ['pH<br>[-]','pO<sub>2</sub><br>[%]','N<sub>St</sub><br>[min<sup>-1</sup>]','c<sub>XL,turb</sub><br>[gL<sup>-1</sup>]','Q<sub>YE</sub><br>[gL<sup>-1</sup>h<sup>-1</sup>]','m<sub>T1</sub><br>[g]'];
const titleCols = [COL.pH, COL.pO2, '#a0a0a0', '#000', COL.QYE, COL.mT1];
const topCols = [293,237,180,125,69,17];
const botCols = [208,171,130,92,54,18];
titleTexts.forEach((t,i)=>{
  addText(t, topCols[i], 44, 13, titleCols[i], {yanchor:'bottom'});
  addText(t, botCols[i], 607, 9.5, titleCols[i], {yanchor:'bottom'});
});
addText('c<sub>XL,BTM</sub><br>[gL<sup>-1</sup>]', topCols[3], 527, 13, '#000', {yanchor:'top'});
addText('m<sub>T2</sub><br>[g]', topCols[5], 527, 13, COL.mT2, {yanchor:'top'});
addText('c<sub>XL,BTM</sub><br>[gL<sup>-1</sup>]', botCols[3], 962, 9.5, '#000', {yanchor:'top'});
addText('m<sub>T2</sub><br>[g]', botCols[5], 962, 9.5, COL.mT2, {yanchor:'top'});

// curve labels with leader lines: [text, color, size, tipX, tipY, textX, textY]
const S = {pH:'pH', pO2:'pO<sub>2</sub>', NSt:'N<sub>St</sub>', BTM:'c<sub>XL,BTM</sub>', turb:'c<sub>XL,turb</sub>', QYE:'Q<sub>YE</sub>', mT1:'m<sub>T1</sub>', mT2:'m<sub>T2</sub>'};
const labels = [
 [S.pH,COL.pH,15,556,175,539,160],[S.pO2,COL.pO2,15,412,246,392,262],[S.NSt,'#909090',15,387,437,364,426],[S.BTM,'#000',15,466,472,420,463],
 [S.turb,'#000',15,522,460,555,487],[S.QYE,COL.QYE,15,660,517,690,498],[S.mT2,COL.mT2,15,694,474,664,462],[S.mT1,COL.mT1,15,729,502,758,489],
 [S.pH,COL.pH,15,1116,172,1095,158],[S.QYE,COL.QYE,15,1249,333,1279,321],[S.NSt,'#909090',15,897,322,929,311],[S.pO2,COL.pO2,15,886,377,862,366],
 [S.mT2,COL.mT2,15,975,468,1004,456],[S.mT1,COL.mT1,15,959,483,927,506],[S.BTM,'#000',15,1333,458,1279,448],[S.turb,'#000',15,1263,477,1302,499],
 [S.QYE,COL.QYE,11,282,697,302,686],[S.pH,COL.pH,11,294,712,272,721],[S.pO2,COL.pO2,11,289,852,268,842],[S.NSt,'#909090',11,412,802,395,789],
 [S.turb,'#000',11,321,925,294,941],[S.mT2,COL.mT2,11,566,807,543,796],[S.mT1,COL.mT1,11,517,885,540,876],[S.BTM,'#000',11,582,908,549,903],
 [S.pH,COL.pH,11,681,700,663,691],[S.QYE,COL.QYE,11,736,712,716,726],[S.NSt,'#909090',11,722,797,742,810],[S.pO2,COL.pO2,11,760,855,740,848],
 [S.mT1,COL.mT1,11,756,875,733,891],[S.turb,'#000',11,756,913,785,928],[S.mT2,COL.mT2,11,856,762,838,752],[S.BTM,'#000',11,942,915,909,910],
 [S.QYE,COL.QYE,11,1097,676,1078,667],[S.mT2,COL.mT2,11,1072,717,1093,731],[S.pH,COL.pH,11,1197,712,1181,723],[S.NSt,'#909090',11,1066,843,1084,837],
 [S.pO2,COL.pO2,11,1162,857,1140,847],[S.mT1,COL.mT1,11,1097,867,1078,883],[S.turb,'#000',11,1064,923,1095,940],[S.BTM,'#000',11,1328,933,1284,947]
];
labels.forEach(l=>{
  layout.annotations.push({text:l[0], xref:'paper', yref:'paper', x:px(l[3]), y:py(l[4]), ax:l[5]-l[3], ay:l[6]-l[4], axref:'pixel', ayref:'pixel',
    showarrow:true, arrowhead:0, arrowwidth:0.8, arrowcolor:l[1], standoff:0, startstandoff:0, font:{family:FONT, size:l[2], color:l[1]}});
});

Plotly.newPlot('chart', traces, layout, {staticPlot:true, displayModeBar:false}).then(()=>{
  document.getElementById('wrap').style.transform = 'translate(0px,1369px) rotate(-90deg)';
});
</script>
</body>
</html>
